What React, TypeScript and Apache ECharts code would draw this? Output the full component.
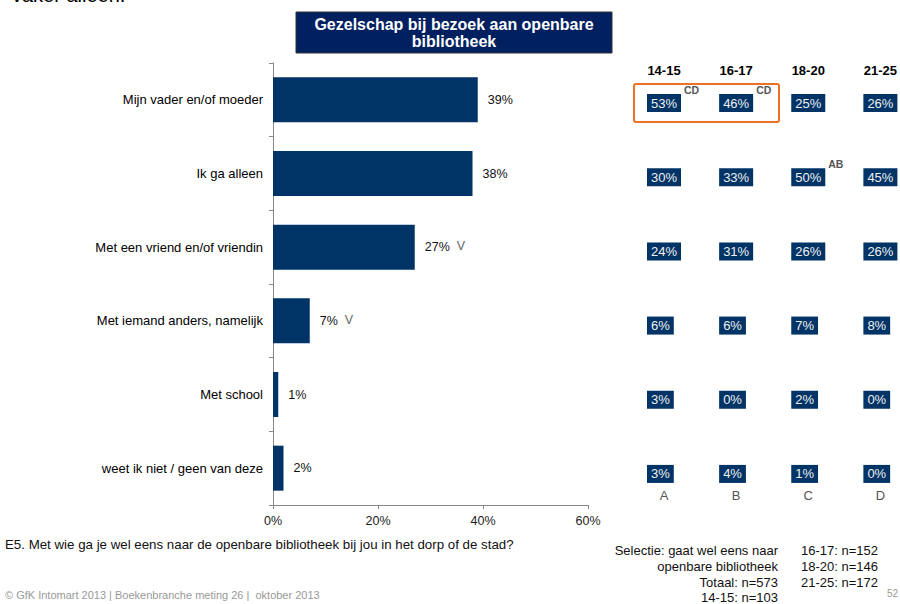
import React, { useEffect, useRef } from "react";
import * as echarts from "echarts";

const categories = [
  "Mijn vader en/of moeder",
  "Ik ga alleen",
  "Met een vriend en/of vriendin",
  "Met iemand anders, namelijk",
  "Met school",
  "weet ik niet / geen van deze",
];
const totals = [39, 38, 27, 7, 1, 2];
const totalMarks = ["", "", "V", "V", "", ""];

const ageGroups = ["14-15", "16-17", "18-20", "21-25"];
const groupLetters = ["A", "B", "C", "D"];
const age1415 = [53, 30, 24, 6, 3, 3];
const age1617 = [46, 33, 31, 6, 0, 4];
const age1820 = [25, 50, 26, 7, 2, 1];
const age2125 = [26, 45, 26, 8, 0, 0];
const sigMarks = [
  { col: 0, row: 0, text: "CD" },
  { col: 1, row: 0, text: "CD" },
  { col: 2, row: 1, text: "AB" },
];

const xTicks = [0, 20, 40, 60];

const FONT = "'Liberation Sans', Arial, sans-serif";
const NAVY = "#003366";

export default function App() {
  const ref = useRef<HTMLDivElement>(null);

  useEffect(() => {
    if (!ref.current) return;
    const chart = echarts.init(ref.current, null, { renderer: "svg" });
    const ageSeries = [age1415, age1617, age1820, age2125];
    const tableData: any[] = [];
    ageSeries.forEach((vals, c) => {
      vals.forEach((v, r) => tableData.push([c, r, v]));
    });
    const sigData = sigMarks.map((s) => [s.col, s.row, s.text]);

    chart.setOption({
      animation: false,
      textStyle: { fontFamily: FONT },
      grid: [
        { left: 273, right: 312, top: 63, bottom: 99 },
        { left: 664, right: 18, top: 66, bottom: 93 },
      ],
      xAxis: [
        {
          gridIndex: 0,
          type: "value",
          min: xTicks[0],
          max: xTicks[xTicks.length - 1],
          interval: 20,
          axisLine: { show: true, lineStyle: { color: "#888" } },
          axisTick: { show: true, length: 4, lineStyle: { color: "#888" } },
          splitLine: { show: false },
          axisLabel: {
            formatter: "{value}%",
            fontSize: 12.5,
            color: "#222",
            margin: 9,
            fontFamily: FONT,
          },
        },
        {
          gridIndex: 1,
          type: "category",
          data: ageGroups,
          position: "top",
          boundaryGap: false,
          axisLine: { show: false },
          axisTick: { show: false },
          splitLine: { show: false },
          axisLabel: {
            fontSize: 13,
            fontWeight: "bold",
            color: "#000",
            margin: -11,
            fontFamily: FONT,
          },
        },
        {
          gridIndex: 1,
          type: "category",
          data: groupLetters,
          position: "bottom",
          boundaryGap: false,
          axisLine: { show: false },
          axisTick: { show: false },
          splitLine: { show: false },
          axisLabel: {
            fontSize: 13,
            color: "#555",
            margin: -22,
            fontFamily: FONT,
          },
        },
      ],
      yAxis: [
        {
          gridIndex: 0,
          type: "category",
          data: categories,
          inverse: true,
          axisLine: { show: true, lineStyle: { color: "#888" } },
          axisTick: { show: true, length: 4, lineStyle: { color: "#888" } },
          axisLabel: { fontSize: 13, color: "#000", margin: 10, fontFamily: FONT },
        },
        {
          gridIndex: 1,
          type: "category",
          data: categories,
          inverse: true,
          show: false,
        },
      ],
      series: [
        {
          type: "bar",
          xAxisIndex: 0,
          yAxisIndex: 0,
          data: totals,
          barWidth: 45,
          itemStyle: { color: NAVY },
          label: {
            show: true,
            position: "right",
            distance: 10,
            formatter: (p: any) =>
              `{v|${p.value}%}` + (totalMarks[p.dataIndex] ? `{m|${totalMarks[p.dataIndex]}}` : ""),
            rich: {
              v: { fontSize: 12.5, color: "#111", fontFamily: FONT },
              m: { fontSize: 12.5, color: "#666", padding: [0, 0, 2, 7], fontFamily: FONT },
            },
          },
        },
        {
          type: "scatter",
          xAxisIndex: 1,
          yAxisIndex: 1,
          data: tableData,
          symbolSize: 1,
          itemStyle: { color: "rgba(0,0,0,0)", opacity: 1 },
          label: {
            show: true,
            position: "inside",
            align: "left",
            verticalAlign: "middle",
            offset: [-17, 0],
            formatter: (p: any) => `${p.value[2]}%`,
            fontSize: 13,
            color: "#f0f0f0",
            backgroundColor: NAVY,
            padding: [3, 4, 2, 4],
            opacity: 1,
            fontFamily: FONT,
          },
        },
        {
          type: "scatter",
          xAxisIndex: 1,
          yAxisIndex: 1,
          data: sigData,
          symbolSize: 1,
          itemStyle: { color: "rgba(0,0,0,0)", opacity: 1 },
          label: {
            show: true,
            position: "inside",
            align: "left",
            verticalAlign: "middle",
            offset: [20, -13],
            formatter: (p: any) => p.value[2],
            fontSize: 10.5,
            fontWeight: "bold",
            color: "#555",
            opacity: 1,
            fontFamily: FONT,
          },
        },
      ],
      graphic: [
        {
          type: "text",
          left: 12,
          top: -15,
          style: { text: "vaker alleen.", fontSize: 20, fill: "#000", fontFamily: FONT },
        },
        {
          type: "rect",
          shape: { x: 296, y: 12, width: 316, height: 41 },
          style: { fill: "#002060", stroke: "#333", lineWidth: 1 },
        },
        {
          type: "text",
          x: 454,
          y: 33,
          style: {
            text: "Gezelschap bij bezoek aan openbare\nbibliotheek",
            fontSize: 16,
            fontWeight: "bold",
            fill: "#fff",
            align: "center",
            verticalAlign: "middle",
            lineHeight: 17,
            fontFamily: FONT,
          },
        },
        {
          type: "rect",
          shape: { x: 634, y: 84, width: 145, height: 38, r: 2 },
          style: { fill: "none", stroke: "#EE7026", lineWidth: 2 },
        },
        {
          type: "text",
          x: 5,
          y: 544,
          style: {
            text: "E5. Met wie ga je wel eens naar de openbare bibliotheek bij jou in het dorp of de stad?",
            fontSize: 13.3,
            fill: "#111",
            verticalAlign: "middle",
            fontFamily: FONT,
          },
        },
        {
          type: "text",
          x: 778,
          y: 543,
          style: {
            text: "Selectie: gaat wel eens naar\nopenbare bibliotheek\nTotaal: n=573\n14-15: n=103",
            fontSize: 13,
            lineHeight: 15.6,
            fill: "#111",
            align: "right",
            verticalAlign: "top",
            fontFamily: FONT,
          },
        },
        {
          type: "text",
          x: 801,
          y: 543,
          style: {
            text: "16-17: n=152\n18-20: n=146\n21-25: n=172",
            fontSize: 13,
            lineHeight: 15.6,
            fill: "#111",
            align: "left",
            verticalAlign: "top",
            fontFamily: FONT,
          },
        },
        {
          type: "text",
          x: 5,
          y: 595,
          style: {
            text: "© GfK Intomart 2013 | Boekenbranche meting 26 |  oktober 2013",
            fontSize: 11,
            fill: "#999",
            verticalAlign: "middle",
            fontFamily: FONT,
          },
        },
        {
          type: "text",
          x: 898,
          y: 593,
          style: {
            text: "52",
            fontSize: 10,
            fill: "#999",
            align: "right",
            verticalAlign: "middle",
            fontFamily: FONT,
          },
        },
      ],
    });
    return () => chart.dispose();
  }, []);

  return (
    <div
      ref={ref}
      style={{ position: "fixed", left: 0, top: 0, width: 900, height: 604, background: "#fff" }}
    />
  );
}
